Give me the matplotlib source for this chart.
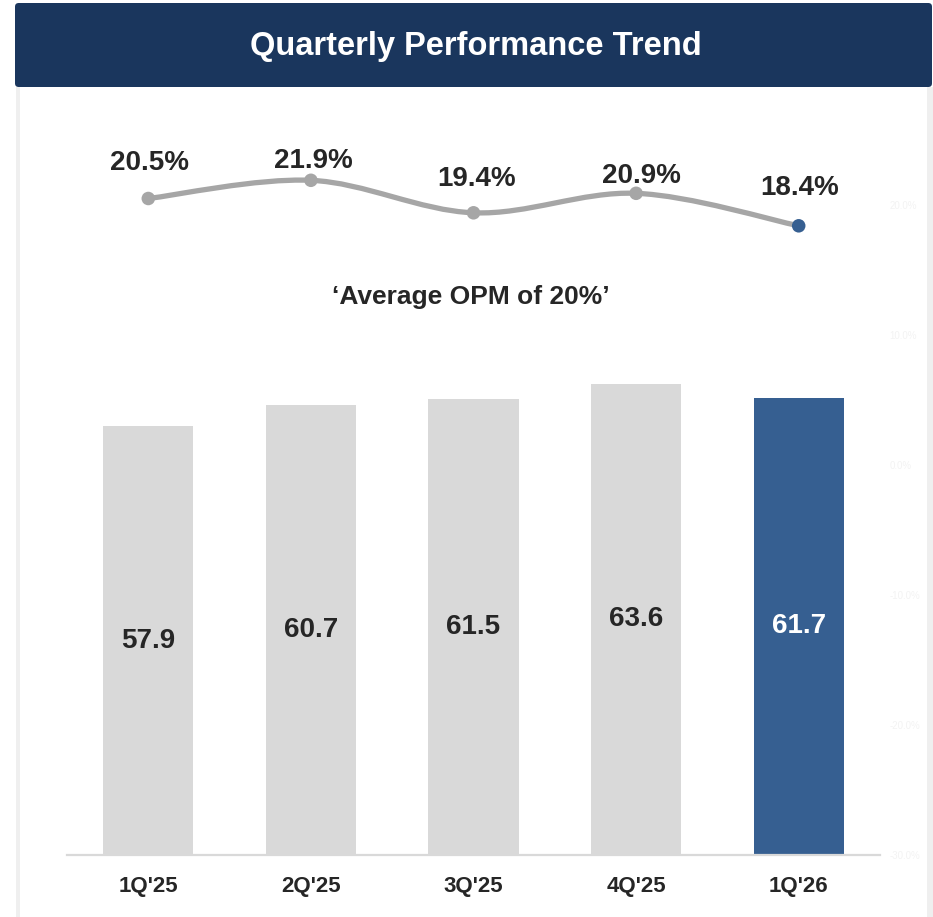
import numpy as np
import matplotlib as mpl
mpl.use('Agg')
import matplotlib.pyplot as plt
from matplotlib.path import Path
from matplotlib.patches import PathPatch, FancyBboxPatch, Rectangle

plt.rcParams['font.family'] = ['Liberation Sans', 'DejaVu Sans']

# data
quarters = ["1Q'25", "2Q'25", "3Q'25", "4Q'25", "1Q'26"]
revenue = [57.9, 60.7, 61.5, 63.6, 61.7]
opm = [20.5, 21.9, 19.4, 20.9, 18.4]
right_ticks = [20, 10, 0, -10, -20, -30]

gray_bar = '#d9d9d9'
navy_bar = '#365f91'
line_gray = '#a6a6a6'
header_col = '#1a365d'
text_col = '#262626'

fig = plt.figure(figsize=(9.33, 9.17), dpi=100)
fig.patch.set_facecolor('white')
W, H = 933, 917

# card frame strips + header
fig.patches.append(Rectangle((16 / W, 0), 4 / W, (H - 87) / H, transform=fig.transFigure,
                             facecolor='#efefef', edgecolor='none', zorder=0))
fig.patches.append(Rectangle((927 / W, 0), 6 / W, (H - 87) / H, transform=fig.transFigure,
                             facecolor='#efefef', edgecolor='none', zorder=0))
fig.patches.append(FancyBboxPatch((15 / W, (H - 87) / H), 917 / W, 84 / H,
                                  boxstyle='round,pad=0,rounding_size=0.004',
                                  transform=fig.transFigure, facecolor=header_col,
                                  edgecolor='none', zorder=1))
fig.text(476 / W, 1 - 46 / H, 'Quarterly Performance Trend', color='white',
         fontsize=23.5, fontweight='bold', ha='center', va='center')

# main axes
ax = fig.add_axes([67 / W, (H - 855) / H, 813 / W, 715 / H])
x = np.arange(len(quarters))
colors = [gray_bar] * (len(quarters) - 1) + [navy_bar]
ax.bar(x, revenue, width=0.555, color=colors, zorder=2)
ax.set_xlim(-0.5, 4.5)
ax.set_ylim(0, 96.5)
for i, v in enumerate(revenue):
    ax.text(i, v / 2, f'{v:.1f}', ha='center', va='center', fontsize=20,
            fontweight='bold', color='white' if i == len(revenue) - 1 else text_col)
ax.set_xticks(x)
ax.set_xticklabels(quarters, fontsize=16, fontweight='bold', color=text_col)
ax.tick_params(axis='x', length=0, pad=15)
ax.set_yticks([])
for s in ['top', 'left', 'right']:
    ax.spines[s].set_visible(False)
ax.spines['bottom'].set_color('#d9d9d9')
ax.spines['bottom'].set_linewidth(1.6)
ax.set_facecolor('none')

# OPM line on secondary axis
ax2 = ax.twinx()
ax2.set_ylim(-30, 25)
ax2.set_yticks(right_ticks)
ax2.set_yticklabels([f'{t:.1f}%' for t in right_ticks], fontsize=7, color='#f3f3f3')
ax2.tick_params(axis='y', length=0, pad=7)
for s in ax2.spines.values():
    s.set_visible(False)

# smooth curve (Catmull-Rom as cubic Bezier)
pts = np.column_stack([x, opm]).astype(float)
ext = np.vstack([pts[0], pts, pts[-1]])
verts = [tuple(pts[0])]
codes = [Path.MOVETO]
for i in range(len(pts) - 1):
    p0, p1, p2, p3 = ext[i], ext[i + 1], ext[i + 2], ext[i + 3]
    c1 = p1 + (p2 - p0) / 6
    c2 = p2 - (p3 - p1) / 6
    verts += [tuple(c1), tuple(c2), tuple(p2)]
    codes += [Path.CURVE4] * 3
ax2.add_patch(PathPatch(Path(verts, codes), fill=False, edgecolor=line_gray,
                        lw=3.8, capstyle='round', zorder=3))
mcols = [line_gray] * (len(opm) - 1) + [navy_bar]
ax2.scatter(x, opm, s=95, c=mcols, zorder=4, linewidths=0)

lab_off = [(1, 25.5), (2, 14), (2, 24), (4, 12.5), (1, 27)]
for i, v in enumerate(opm):
    ax2.annotate(f'{v:.1f}%', (i, v), xytext=lab_off[i], textcoords='offset points',
                 ha='center', va='center', fontsize=20, fontweight='bold', color=text_col)

fig.text(471 / W, 1 - 297 / H, '\u2018Average OPM of 20%\u2019', ha='center', va='center',
         fontsize=19, fontweight='bold', color=text_col)

fig.savefig('out.png', dpi=100)
